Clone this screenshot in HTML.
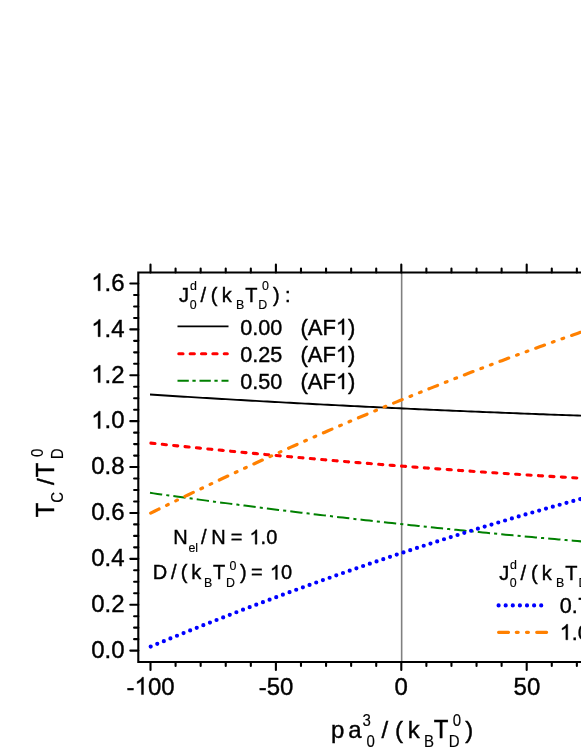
<!DOCTYPE html><html><head><meta charset="utf-8"><style>html,body{margin:0;padding:0;background:#fff}svg{will-change:transform}svg text,svg .o{stroke:#000;stroke-width:.4px;vector-effect:non-scaling-stroke}svg text.s{stroke-width:.15px}</style></head><body><svg width="581" height="752" viewBox="0 0 581 752" style="display:block;font-family:'Liberation Sans',sans-serif" fill="#000">
<rect width="581" height="752" fill="#fff"/>
<line x1="401.65" y1="272.5" x2="401.65" y2="662.0" stroke="#808080" stroke-width="1.6"/>
<path d="M150.00,394.56 L153.78,394.80 L157.56,395.04 L161.34,395.28 L165.13,395.52 L168.91,395.75 L172.69,395.99 L176.47,396.22 L180.25,396.46 L184.03,396.69 L187.82,396.92 L191.60,397.15 L195.38,397.38 L199.16,397.61 L202.94,397.83 L206.72,398.06 L210.50,398.28 L214.29,398.51 L218.07,398.73 L221.85,398.95 L225.63,399.17 L229.41,399.40 L233.19,399.61 L236.97,399.83 L240.76,400.05 L244.54,400.27 L248.32,400.48 L252.10,400.70 L255.88,400.91 L259.66,401.12 L263.45,401.34 L267.23,401.55 L271.01,401.76 L274.79,401.96 L278.57,402.17 L282.35,402.38 L286.13,402.58 L289.92,402.79 L293.70,402.99 L297.48,403.20 L301.26,403.40 L305.04,403.60 L308.82,403.80 L312.61,404.00 L316.39,404.20 L320.17,404.39 L323.95,404.59 L327.73,404.79 L331.51,404.98 L335.29,405.17 L339.08,405.37 L342.86,405.56 L346.64,405.75 L350.42,405.94 L354.20,406.13 L357.98,406.31 L361.76,406.50 L365.55,406.69 L369.33,406.87 L373.11,407.05 L376.89,407.24 L380.67,407.42 L384.45,407.60 L388.24,407.78 L392.02,407.96 L395.80,408.14 L399.58,408.31 L403.36,408.49 L407.14,408.66 L410.92,408.84 L414.71,409.01 L418.49,409.18 L422.27,409.35 L426.05,409.52 L429.83,409.69 L433.61,409.86 L437.39,410.03 L441.18,410.20 L444.96,410.36 L448.74,410.53 L452.52,410.69 L456.30,410.85 L460.08,411.01 L463.87,411.17 L467.65,411.33 L471.43,411.49 L475.21,411.65 L478.99,411.81 L482.77,411.96 L486.55,412.12 L490.34,412.27 L494.12,412.42 L497.90,412.57 L501.68,412.73 L505.46,412.88 L509.24,413.02 L513.03,413.17 L516.81,413.32 L520.59,413.47 L524.37,413.61 L528.15,413.75 L531.93,413.90 L535.71,414.04 L539.50,414.18 L543.28,414.32 L547.06,414.46 L550.84,414.60 L554.62,414.74 L558.40,414.87 L562.18,415.01 L565.97,415.14 L569.75,415.28 L573.53,415.41 L577.31,415.54 L581.09,415.67 L584.87,415.80 L588.66,415.93 L592.44,416.06 L596.22,416.18 L600.00,416.31" fill="none" stroke="#000" stroke-width="1.9"/>
<path d="M150.90,443.09 L154.67,443.49 L158.45,443.89 L162.22,444.28 L166.00,444.68 L169.77,445.07 L173.54,445.46 L177.32,445.85 L181.09,446.24 L184.87,446.63 L188.64,447.01 L192.41,447.39 L196.19,447.78 L199.96,448.16 L203.74,448.53 L207.51,448.91 L211.28,449.29 L215.06,449.66 L218.83,450.03 L222.61,450.40 L226.38,450.77 L230.15,451.14 L233.93,451.50 L237.70,451.87 L241.47,452.23 L245.25,452.59 L249.02,452.95 L252.80,453.31 L256.57,453.66 L260.34,454.02 L264.12,454.37 L267.89,454.72 L271.67,455.07 L275.44,455.42 L279.21,455.76 L282.99,456.11 L286.76,456.45 L290.54,456.79 L294.31,457.13 L298.08,457.47 L301.86,457.80 L305.63,458.14 L309.41,458.47 L313.18,458.80 L316.95,459.13 L320.73,459.46 L324.50,459.79 L328.28,460.11 L332.05,460.44 L335.82,460.76 L339.60,461.08 L343.37,461.40 L347.15,461.71 L350.92,462.03 L354.69,462.34 L358.47,462.65 L362.24,462.96 L366.02,463.27 L369.79,463.58 L373.56,463.88 L377.34,464.19 L381.11,464.49 L384.88,464.79 L388.66,465.09 L392.43,465.39 L396.21,465.68 L399.98,465.98 L403.75,466.27 L407.53,466.56 L411.30,466.85 L415.08,467.14 L418.85,467.42 L422.62,467.71 L426.40,467.99 L430.17,468.27 L433.95,468.55 L437.72,468.83 L441.49,469.11 L445.27,469.38 L449.04,469.65 L452.82,469.92 L456.59,470.19 L460.36,470.46 L464.14,470.73 L467.91,470.99 L471.69,471.26 L475.46,471.52 L479.23,471.78 L483.01,472.04 L486.78,472.29 L490.56,472.55 L494.33,472.80 L498.10,473.05 L501.88,473.31 L505.65,473.55 L509.43,473.80 L513.20,474.05 L516.97,474.29 L520.75,474.53 L524.52,474.77 L528.29,475.01 L532.07,475.25 L535.84,475.49 L539.62,475.72 L543.39,475.95 L547.16,476.18 L550.94,476.41 L554.71,476.64 L558.49,476.87 L562.26,477.09 L566.03,477.31 L569.81,477.53 L573.58,477.75 L577.36,477.97 L581.13,478.19 L584.90,478.40 L588.68,478.61 L592.45,478.83 L596.23,479.04 L600.00,479.24" fill="none" stroke="#ff0000" stroke-width="3.1" stroke-linecap="round" stroke-dasharray="4.1 7.34"/>
<path d="M150.00,492.85 L153.78,493.38 L157.56,493.91 L161.34,494.44 L165.13,494.96 L168.91,495.49 L172.69,496.01 L176.47,496.53 L180.25,497.05 L184.03,497.57 L187.82,498.08 L191.60,498.60 L195.38,499.11 L199.16,499.62 L202.94,500.13 L206.72,500.63 L210.50,501.14 L214.29,501.64 L218.07,502.14 L221.85,502.64 L225.63,503.13 L229.41,503.63 L233.19,504.12 L236.97,504.61 L240.76,505.10 L244.54,505.59 L248.32,506.07 L252.10,506.56 L255.88,507.04 L259.66,507.52 L263.45,507.99 L267.23,508.47 L271.01,508.94 L274.79,509.42 L278.57,509.89 L282.35,510.35 L286.13,510.82 L289.92,511.28 L293.70,511.75 L297.48,512.21 L301.26,512.67 L305.04,513.12 L308.82,513.58 L312.61,514.03 L316.39,514.48 L320.17,514.93 L323.95,515.38 L327.73,515.82 L331.51,516.27 L335.29,516.71 L339.08,517.15 L342.86,517.59 L346.64,518.02 L350.42,518.46 L354.20,518.89 L357.98,519.32 L361.76,519.75 L365.55,520.18 L369.33,520.60 L373.11,521.02 L376.89,521.45 L380.67,521.86 L384.45,522.28 L388.24,522.70 L392.02,523.11 L395.80,523.52 L399.58,523.93 L403.36,524.34 L407.14,524.75 L410.92,525.15 L414.71,525.55 L418.49,525.95 L422.27,526.35 L426.05,526.75 L429.83,527.14 L433.61,527.54 L437.39,527.93 L441.18,528.31 L444.96,528.70 L448.74,529.09 L452.52,529.47 L456.30,529.85 L460.08,530.23 L463.87,530.61 L467.65,530.99 L471.43,531.36 L475.21,531.73 L478.99,532.10 L482.77,532.47 L486.55,532.84 L490.34,533.20 L494.12,533.56 L497.90,533.92 L501.68,534.28 L505.46,534.64 L509.24,534.99 L513.03,535.35 L516.81,535.70 L520.59,536.05 L524.37,536.40 L528.15,536.74 L531.93,537.09 L535.71,537.43 L539.50,537.77 L543.28,538.11 L547.06,538.44 L550.84,538.78 L554.62,539.11 L558.40,539.44 L562.18,539.77 L565.97,540.09 L569.75,540.42 L573.53,540.74 L577.31,541.06 L581.09,541.38 L584.87,541.70 L588.66,542.02 L592.44,542.33 L596.22,542.64 L600.00,542.95" fill="none" stroke="#008000" stroke-width="2" stroke-dasharray="12.3 4.1 3.08 4.1"/>
<path d="M150.70,646.54 L154.48,644.98 L158.25,643.42 L162.03,641.87 L165.80,640.32 L169.58,638.78 L173.35,637.24 L177.13,635.71 L180.91,634.18 L184.68,632.65 L188.46,631.14 L192.23,629.62 L196.01,628.11 L199.78,626.61 L203.56,625.11 L207.33,623.61 L211.11,622.12 L214.89,620.63 L218.66,619.15 L222.44,617.68 L226.21,616.20 L229.99,614.74 L233.76,613.27 L237.54,611.82 L241.32,610.36 L245.09,608.91 L248.87,607.47 L252.64,606.03 L256.42,604.60 L260.19,603.17 L263.97,601.74 L267.74,600.32 L271.52,598.91 L275.30,597.50 L279.07,596.09 L282.85,594.69 L286.62,593.29 L290.40,591.90 L294.17,590.51 L297.95,589.13 L301.73,587.75 L305.50,586.38 L309.28,585.01 L313.05,583.65 L316.83,582.29 L320.60,580.93 L324.38,579.58 L328.15,578.24 L331.93,576.90 L335.71,575.56 L339.48,574.23 L343.26,572.90 L347.03,571.58 L350.81,570.26 L354.58,568.95 L358.36,567.65 L362.14,566.34 L365.91,565.04 L369.69,563.75 L373.46,562.46 L377.24,561.18 L381.01,559.90 L384.79,558.62 L388.56,557.35 L392.34,556.09 L396.12,554.83 L399.89,553.57 L403.67,552.32 L407.44,551.07 L411.22,549.83 L414.99,548.60 L418.77,547.36 L422.55,546.14 L426.32,544.91 L430.10,543.69 L433.87,542.48 L437.65,541.27 L441.42,540.07 L445.20,538.87 L448.97,537.67 L452.75,536.48 L456.53,535.30 L460.30,534.12 L464.08,532.94 L467.85,531.77 L471.63,530.60 L475.40,529.44 L479.18,528.28 L482.96,527.13 L486.73,525.98 L490.51,524.84 L494.28,523.70 L498.06,522.57 L501.83,521.44 L505.61,520.32 L509.38,519.20 L513.16,518.08 L516.94,516.97 L520.71,515.87 L524.49,514.77 L528.26,513.67 L532.04,512.58 L535.81,511.49 L539.59,510.41 L543.37,509.33 L547.14,508.26 L550.92,507.19 L554.69,506.13 L558.47,505.07 L562.24,504.02 L566.02,502.97 L569.79,501.92 L573.57,500.88 L577.35,499.85 L581.12,498.82 L584.90,497.79 L588.67,496.77 L592.45,495.75 L596.22,494.74 L600.00,493.74" fill="none" stroke="#0000ff" stroke-width="4.2" stroke-linecap="round" stroke-dasharray="0 7.1"/>
<path d="M150.70,513.13 L154.48,511.26 L158.25,509.40 L162.03,507.55 L165.80,505.70 L169.58,503.85 L173.35,502.01 L177.13,500.18 L180.91,498.35 L184.68,496.52 L188.46,494.70 L192.23,492.89 L196.01,491.07 L199.78,489.27 L203.56,487.47 L207.33,485.67 L211.11,483.88 L214.89,482.09 L218.66,480.31 L222.44,478.54 L226.21,476.77 L229.99,475.00 L233.76,473.24 L237.54,471.48 L241.32,469.73 L245.09,467.98 L248.87,466.24 L252.64,464.50 L256.42,462.77 L260.19,461.04 L263.97,459.32 L267.74,457.60 L271.52,455.89 L275.30,454.18 L279.07,452.48 L282.85,450.78 L286.62,449.09 L290.40,447.40 L294.17,445.71 L297.95,444.04 L301.73,442.36 L305.50,440.69 L309.28,439.03 L313.05,437.37 L316.83,435.72 L320.60,434.07 L324.38,432.42 L328.15,430.78 L331.93,429.15 L335.71,427.52 L339.48,425.90 L343.26,424.28 L347.03,422.66 L350.81,421.05 L354.58,419.45 L358.36,417.85 L362.14,416.25 L365.91,414.66 L369.69,413.07 L373.46,411.49 L377.24,409.92 L381.01,408.35 L384.79,406.78 L388.56,405.22 L392.34,403.66 L396.12,402.11 L399.89,400.57 L403.67,399.02 L407.44,397.49 L411.22,395.96 L414.99,394.43 L418.77,392.91 L422.55,391.39 L426.32,389.88 L430.10,388.37 L433.87,386.87 L437.65,385.37 L441.42,383.88 L445.20,382.39 L448.97,380.91 L452.75,379.43 L456.53,377.96 L460.30,376.49 L464.08,375.03 L467.85,373.57 L471.63,372.11 L475.40,370.67 L479.18,369.22 L482.96,367.78 L486.73,366.35 L490.51,364.92 L494.28,363.50 L498.06,362.08 L501.83,360.66 L505.61,359.25 L509.38,357.85 L513.16,356.45 L516.94,355.06 L520.71,353.67 L524.49,352.28 L528.26,350.90 L532.04,349.53 L535.81,348.16 L539.59,346.79 L543.37,345.43 L547.14,344.07 L550.92,342.72 L554.69,341.38 L558.47,340.04 L562.24,338.70 L566.02,337.37 L569.79,336.04 L573.57,334.72 L577.35,333.41 L581.12,332.10 L584.90,330.79 L588.67,329.49 L592.45,328.19 L596.22,326.90 L600.00,325.61" fill="none" stroke="#ff8000" stroke-width="3.2" stroke-linecap="round" stroke-dasharray="9.3 8.4 1.8 8.4 1.8 8.4"/>
<path d="M700,272.5 H138.3 V662.0 H700" fill="none" stroke="#000" stroke-width="2.1" stroke-linejoin="miter"/>
<path d="M150.50,272.5 v-8.0 M150.50,662.0 v8.0 M175.58,272.5 v-4.0 M175.58,662.0 v4.0 M200.66,272.5 v-4.0 M200.66,662.0 v4.0 M225.74,272.5 v-4.0 M225.74,662.0 v4.0 M250.82,272.5 v-4.0 M250.82,662.0 v4.0 M275.90,272.5 v-8.0 M275.90,662.0 v8.0 M300.98,272.5 v-4.0 M300.98,662.0 v4.0 M326.06,272.5 v-4.0 M326.06,662.0 v4.0 M351.14,272.5 v-4.0 M351.14,662.0 v4.0 M376.22,272.5 v-4.0 M376.22,662.0 v4.0 M401.30,272.5 v-8.0 M401.30,662.0 v8.0 M426.38,272.5 v-4.0 M426.38,662.0 v4.0 M451.46,272.5 v-4.0 M451.46,662.0 v4.0 M476.54,272.5 v-4.0 M476.54,662.0 v4.0 M501.62,272.5 v-4.0 M501.62,662.0 v4.0 M526.70,272.5 v-8.0 M526.70,662.0 v8.0 M551.78,272.5 v-4.0 M551.78,662.0 v4.0 M576.86,272.5 v-4.0 M576.86,662.0 v4.0 M601.94,272.5 v-4.0 M601.94,662.0 v4.0 M627.02,272.5 v-4.0 M627.02,662.0 v4.0 M652.10,272.5 v-8.0 M652.10,662.0 v8.0 M677.18,272.5 v-4.0 M677.18,662.0 v4.0 M702.26,272.5 v-4.0 M702.26,662.0 v4.0 M727.34,272.5 v-4.0 M727.34,662.0 v4.0 M752.42,272.5 v-4.0 M752.42,662.0 v4.0 M777.50,272.5 v-8.0 M777.50,662.0 v8.0 M802.58,272.5 v-4.0 M802.58,662.0 v4.0 M827.66,272.5 v-4.0 M827.66,662.0 v4.0 M852.74,272.5 v-4.0 M852.74,662.0 v4.0 M877.82,272.5 v-4.0 M877.82,662.0 v4.0 M902.90,272.5 v-8.0 M902.90,662.0 v8.0 M927.98,272.5 v-4.0 M927.98,662.0 v4.0 M953.06,272.5 v-4.0 M953.06,662.0 v4.0 M978.14,272.5 v-4.0 M978.14,662.0 v4.0 M1003.22,272.5 v-4.0 M1003.22,662.0 v4.0 M1028.30,272.5 v-8.0 M1028.30,662.0 v8.0 M1053.38,272.5 v-4.0 M1053.38,662.0 v4.0 M1078.46,272.5 v-4.0 M1078.46,662.0 v4.0 M1103.54,272.5 v-4.0 M1103.54,662.0 v4.0 M1128.62,272.5 v-4.0 M1128.62,662.0 v4.0 M138.3,650.60 h-8.0 M138.3,639.13 h-4.2 M138.3,627.66 h-4.2 M138.3,616.19 h-4.2 M138.3,604.71 h-8.0 M138.3,593.24 h-4.2 M138.3,581.77 h-4.2 M138.3,570.30 h-4.2 M138.3,558.83 h-8.0 M138.3,547.36 h-4.2 M138.3,535.88 h-4.2 M138.3,524.41 h-4.2 M138.3,512.94 h-8.0 M138.3,501.47 h-4.2 M138.3,490.00 h-4.2 M138.3,478.53 h-4.2 M138.3,467.06 h-8.0 M138.3,455.58 h-4.2 M138.3,444.11 h-4.2 M138.3,432.64 h-4.2 M138.3,421.17 h-8.0 M138.3,409.70 h-4.2 M138.3,398.23 h-4.2 M138.3,386.76 h-4.2 M138.3,375.28 h-8.0 M138.3,363.81 h-4.2 M138.3,352.34 h-4.2 M138.3,340.87 h-4.2 M138.3,329.40 h-8.0 M138.3,317.93 h-4.2 M138.3,306.46 h-4.2 M138.3,294.98 h-4.2 M138.3,283.51 h-8.0" fill="none" stroke="#000" stroke-width="2.1" stroke-linecap="round"/>
<text transform="translate(91.24,657.90) scale(1,1.015)" font-size="24">0</text><text transform="translate(104.58,657.90) scale(1,1.015)" font-size="24">.</text><text transform="translate(111.25,657.90) scale(1,1.015)" font-size="24">0</text>
<text transform="translate(91.24,612.01) scale(1,1.015)" font-size="24">0</text><text transform="translate(104.58,612.01) scale(1,1.015)" font-size="24">.</text><text transform="translate(111.25,612.01) scale(1,1.015)" font-size="24">2</text>
<text transform="translate(91.24,566.13) scale(1,1.015)" font-size="24">0</text><text transform="translate(104.58,566.13) scale(1,1.015)" font-size="24">.</text><text transform="translate(111.25,566.13) scale(1,1.015)" font-size="24">4</text>
<text transform="translate(91.24,520.24) scale(1,1.015)" font-size="24">0</text><text transform="translate(104.58,520.24) scale(1,1.015)" font-size="24">.</text><text transform="translate(111.25,520.24) scale(1,1.015)" font-size="24">6</text>
<text transform="translate(91.24,474.36) scale(1,1.015)" font-size="24">0</text><text transform="translate(104.58,474.36) scale(1,1.015)" font-size="24">.</text><text transform="translate(111.25,474.36) scale(1,1.015)" font-size="24">8</text>
<path class="o" transform="translate(91.24,428.47) scale(24)" d="M0.373,0 L0.285,0 L0.285,-0.560 Q0.253,-0.530 0.201,-0.499 Q0.150,-0.469 0.109,-0.454 L0.109,-0.539 Q0.183,-0.574 0.238,-0.623 Q0.293,-0.673 0.316,-0.719 L0.373,-0.719 Z"/><text transform="translate(104.58,428.47) scale(1,1.015)" font-size="24">.</text><text transform="translate(111.25,428.47) scale(1,1.015)" font-size="24">0</text>
<path class="o" transform="translate(91.24,382.58) scale(24)" d="M0.373,0 L0.285,0 L0.285,-0.560 Q0.253,-0.530 0.201,-0.499 Q0.150,-0.469 0.109,-0.454 L0.109,-0.539 Q0.183,-0.574 0.238,-0.623 Q0.293,-0.673 0.316,-0.719 L0.373,-0.719 Z"/><text transform="translate(104.58,382.58) scale(1,1.015)" font-size="24">.</text><text transform="translate(111.25,382.58) scale(1,1.015)" font-size="24">2</text>
<path class="o" transform="translate(91.24,336.70) scale(24)" d="M0.373,0 L0.285,0 L0.285,-0.560 Q0.253,-0.530 0.201,-0.499 Q0.150,-0.469 0.109,-0.454 L0.109,-0.539 Q0.183,-0.574 0.238,-0.623 Q0.293,-0.673 0.316,-0.719 L0.373,-0.719 Z"/><text transform="translate(104.58,336.70) scale(1,1.015)" font-size="24">.</text><text transform="translate(111.25,336.70) scale(1,1.015)" font-size="24">4</text>
<path class="o" transform="translate(91.24,290.81) scale(24)" d="M0.373,0 L0.285,0 L0.285,-0.560 Q0.253,-0.530 0.201,-0.499 Q0.150,-0.469 0.109,-0.454 L0.109,-0.539 Q0.183,-0.574 0.238,-0.623 Q0.293,-0.673 0.316,-0.719 L0.373,-0.719 Z"/><text transform="translate(104.58,290.81) scale(1,1.015)" font-size="24">.</text><text transform="translate(111.25,290.81) scale(1,1.015)" font-size="24">6</text>
<text transform="translate(126.58,694.50) scale(1,1.03)" font-size="24">-</text><path class="o" transform="translate(134.57,694.50) scale(24)" d="M0.373,0 L0.285,0 L0.285,-0.560 Q0.253,-0.530 0.201,-0.499 Q0.150,-0.469 0.109,-0.454 L0.109,-0.539 Q0.183,-0.574 0.238,-0.623 Q0.293,-0.673 0.316,-0.719 L0.373,-0.719 Z"/><text transform="translate(147.92,694.50) scale(1,1.03)" font-size="24">0</text><text transform="translate(161.27,694.50) scale(1,1.03)" font-size="24">0</text>
<text transform="translate(258.66,694.50) scale(1,1.03)" font-size="24">-</text><text transform="translate(266.65,694.50) scale(1,1.03)" font-size="24">5</text><text transform="translate(280.00,694.50) scale(1,1.03)" font-size="24">0</text>
<text transform="translate(394.43,694.50) scale(1,1.03)" font-size="24">0</text>
<text transform="translate(513.55,694.50) scale(1,1.03)" font-size="24">5</text><text transform="translate(526.90,694.50) scale(1,1.03)" font-size="24">0</text>
<text x="330.95" y="737.70" font-size="24">p</text><text x="348.28" y="737.70" font-size="24">a</text><text class="s" transform="translate(362.53,725.80) scale(1,1.04)" font-size="15">3</text><text class="s" transform="translate(366.61,746.90) scale(1,1.04)" font-size="15">0</text><text x="381.60" y="737.70" font-size="24">/</text><text x="394.91" y="737.70" font-size="24">(</text><text x="407.68" y="737.70" font-size="24">k</text><text class="s" transform="translate(423.97,746.90) scale(1,1.04)" font-size="15">B</text><text transform="translate(433.86,737.70) scale(1,1.04)" font-size="24">T</text><text class="s" transform="translate(452.81,725.80) scale(1,1.04)" font-size="15">0</text><text class="s" transform="translate(448.87,746.90) scale(1,1.04)" font-size="15">D</text><text x="465.26" y="737.70" font-size="24">)</text>
<g transform="translate(53.7,0) rotate(-90)"><text transform="translate(-517.24,0.00) scale(1,1.04)" font-size="24">T</text><text class="s" transform="translate(-502.76,9.20) scale(1,1.04)" font-size="15">C</text><text x="-485.00" y="0.00" font-size="24">/</text><text transform="translate(-477.24,0.00) scale(1,1.04)" font-size="24">T</text><text class="s" transform="translate(-457.09,-10.80) scale(1,1.04)" font-size="15">0</text><text class="s" transform="translate(-459.13,9.20) scale(1,1.04)" font-size="15">D</text></g>
<text transform="translate(179.09,301.50) scale(1,1.04)" font-size="20">J</text><text class="s" x="189.88" y="290.40" font-size="12.4">d</text><text class="s" transform="translate(189.72,308.60) scale(1,1.04)" font-size="12.4">0</text><text x="200.40" y="301.50" font-size="20">/</text><text x="210.86" y="301.50" font-size="20">(</text><text x="221.75" y="301.50" font-size="20">k</text><text class="s" transform="translate(235.88,308.60) scale(1,1.04)" font-size="12.4">B</text><text transform="translate(245.15,301.50) scale(1,1.04)" font-size="20">T</text><text class="s" transform="translate(262.02,290.40) scale(1,1.04)" font-size="12.4">0</text><text class="s" transform="translate(258.28,308.60) scale(1,1.04)" font-size="12.4">D</text><text x="272.98" y="301.50" font-size="20">)</text><text x="285.07" y="301.50" font-size="20">:</text>
<path d="M177.5,326.4 H228.5" fill="none" stroke="#000" stroke-width="1.9"/>
<text transform="translate(240.20,334.60) scale(1,1.06)" font-size="21.6">0</text><text transform="translate(252.21,334.60) scale(1,1.06)" font-size="21.6">.</text><text transform="translate(258.21,334.60) scale(1,1.06)" font-size="21.6">0</text><text transform="translate(270.23,334.60) scale(1,1.06)" font-size="21.6">0</text>
<text x="300.40" y="334.60" font-size="22.0">(</text><text transform="translate(307.73,334.60) scale(1,1.04)" font-size="22.0">A</text><text transform="translate(322.40,334.60) scale(1,1.04)" font-size="22.0">F</text><path class="o" transform="translate(335.84,334.60) scale(22.0)" d="M0.373,0 L0.285,0 L0.285,-0.560 Q0.253,-0.530 0.201,-0.499 Q0.150,-0.469 0.109,-0.454 L0.109,-0.539 Q0.183,-0.574 0.238,-0.623 Q0.293,-0.673 0.316,-0.719 L0.373,-0.719 Z"/><text x="348.07" y="334.60" font-size="22.0">)</text>
<path d="M178.8,353.8 H227.3" fill="none" stroke="#ff0000" stroke-width="3.1" stroke-linecap="round" stroke-dasharray="4.2 7.16"/>
<text transform="translate(240.20,362.00) scale(1,1.06)" font-size="21.6">0</text><text transform="translate(252.21,362.00) scale(1,1.06)" font-size="21.6">.</text><text transform="translate(258.21,362.00) scale(1,1.06)" font-size="21.6">2</text><text transform="translate(270.23,362.00) scale(1,1.06)" font-size="21.6">5</text>
<text x="300.40" y="362.00" font-size="22.0">(</text><text transform="translate(307.73,362.00) scale(1,1.04)" font-size="22.0">A</text><text transform="translate(322.40,362.00) scale(1,1.04)" font-size="22.0">F</text><path class="o" transform="translate(335.84,362.00) scale(22.0)" d="M0.373,0 L0.285,0 L0.285,-0.560 Q0.253,-0.530 0.201,-0.499 Q0.150,-0.469 0.109,-0.454 L0.109,-0.539 Q0.183,-0.574 0.238,-0.623 Q0.293,-0.673 0.316,-0.719 L0.373,-0.719 Z"/><text x="348.07" y="362.00" font-size="22.0">)</text>
<path d="M177.5,380.8 H228.5" fill="none" stroke="#008000" stroke-width="2" stroke-dasharray="11.3 3.6 3.3 3.8"/>
<text transform="translate(240.20,389.00) scale(1,1.06)" font-size="21.6">0</text><text transform="translate(252.21,389.00) scale(1,1.06)" font-size="21.6">.</text><text transform="translate(258.21,389.00) scale(1,1.06)" font-size="21.6">5</text><text transform="translate(270.23,389.00) scale(1,1.06)" font-size="21.6">0</text>
<text x="300.40" y="389.00" font-size="22.0">(</text><text transform="translate(307.73,389.00) scale(1,1.04)" font-size="22.0">A</text><text transform="translate(322.40,389.00) scale(1,1.04)" font-size="22.0">F</text><path class="o" transform="translate(335.84,389.00) scale(22.0)" d="M0.373,0 L0.285,0 L0.285,-0.560 Q0.253,-0.530 0.201,-0.499 Q0.150,-0.469 0.109,-0.454 L0.109,-0.539 Q0.183,-0.574 0.238,-0.623 Q0.293,-0.673 0.316,-0.719 L0.373,-0.719 Z"/><text x="348.07" y="389.00" font-size="22.0">)</text>
<text transform="translate(173.26,544.20) scale(1,1.04)" font-size="20">N</text><text class="s" x="188.57" y="551.80" font-size="12.4">e</text><text class="s" x="195.16" y="551.80" font-size="12.4">l</text><text x="200.90" y="544.20" font-size="20">/</text><text transform="translate(211.16,544.20) scale(1,1.04)" font-size="20">N</text><text x="230.82" y="544.20" font-size="20">=</text><path class="o" transform="translate(249.48,544.20) scale(20)" d="M0.373,0 L0.285,0 L0.285,-0.560 Q0.253,-0.530 0.201,-0.499 Q0.150,-0.469 0.109,-0.454 L0.109,-0.539 Q0.183,-0.574 0.238,-0.623 Q0.293,-0.673 0.316,-0.719 L0.373,-0.719 Z"/><text x="260.60" y="544.20" font-size="20">.</text><text transform="translate(266.16,544.20) scale(1,1.04)" font-size="20">0</text>
<text transform="translate(152.66,579.40) scale(1,1.04)" font-size="20">D</text><text x="171.10" y="579.40" font-size="20">/</text><text x="180.86" y="579.40" font-size="20">(</text><text x="191.25" y="579.40" font-size="20">k</text><text class="s" transform="translate(203.98,586.70) scale(1,1.04)" font-size="12.4">B</text><text transform="translate(213.05,579.40) scale(1,1.04)" font-size="20">T</text><text class="s" transform="translate(229.62,569.80) scale(1,1.04)" font-size="12.4">0</text><text class="s" transform="translate(226.08,586.70) scale(1,1.04)" font-size="12.4">D</text><text x="240.08" y="579.40" font-size="20">)</text><text x="251.12" y="579.40" font-size="20">=</text><path class="o" transform="translate(269.88,579.40) scale(20)" d="M0.373,0 L0.285,0 L0.285,-0.560 Q0.253,-0.530 0.201,-0.499 Q0.150,-0.469 0.109,-0.454 L0.109,-0.539 Q0.183,-0.574 0.238,-0.623 Q0.293,-0.673 0.316,-0.719 L0.373,-0.719 Z"/><text transform="translate(281.00,579.40) scale(1,1.04)" font-size="20">0</text>
<text transform="translate(499.19,579.60) scale(1,1.04)" font-size="20">J</text><text class="s" x="509.98" y="568.50" font-size="12.4">d</text><text class="s" transform="translate(509.82,586.70) scale(1,1.04)" font-size="12.4">0</text><text x="520.50" y="579.60" font-size="20">/</text><text x="530.96" y="579.60" font-size="20">(</text><text x="541.85" y="579.60" font-size="20">k</text><text class="s" transform="translate(555.98,586.70) scale(1,1.04)" font-size="12.4">B</text><text transform="translate(565.25,579.60) scale(1,1.04)" font-size="20">T</text><text class="s" transform="translate(582.12,568.50) scale(1,1.04)" font-size="12.4">0</text><text class="s" transform="translate(578.38,586.70) scale(1,1.04)" font-size="12.4">D</text><text x="593.08" y="579.60" font-size="20">)</text><text x="605.17" y="579.60" font-size="20">:</text>
<path d="M498.6,605.4 H545" fill="none" stroke="#0000ff" stroke-width="4.2" stroke-linecap="round" stroke-dasharray="0 7.1"/>
<path d="M498.6,632.3 H546.6" fill="none" stroke="#ff8000" stroke-width="3.2" stroke-linecap="round" stroke-dasharray="9.9 7.8 1.9 8.3 1.9 8.3"/>
<text transform="translate(559.70,613.10) scale(1,1.06)" font-size="21.6">0</text><text transform="translate(571.71,613.10) scale(1,1.06)" font-size="21.6">.</text><text transform="translate(577.71,613.10) scale(1,1.06)" font-size="21.6">7</text><text transform="translate(589.73,613.10) scale(1,1.06)" font-size="21.6">5</text>
<path class="o" transform="translate(559.70,639.80) scale(21.6)" d="M0.373,0 L0.285,0 L0.285,-0.560 Q0.253,-0.530 0.201,-0.499 Q0.150,-0.469 0.109,-0.454 L0.109,-0.539 Q0.183,-0.574 0.238,-0.623 Q0.293,-0.673 0.316,-0.719 L0.373,-0.719 Z"/><text transform="translate(571.71,639.80) scale(1,1.06)" font-size="21.6">.</text><text transform="translate(577.71,639.80) scale(1,1.06)" font-size="21.6">0</text><text transform="translate(589.73,639.80) scale(1,1.06)" font-size="21.6">0</text>
</svg></body></html>
